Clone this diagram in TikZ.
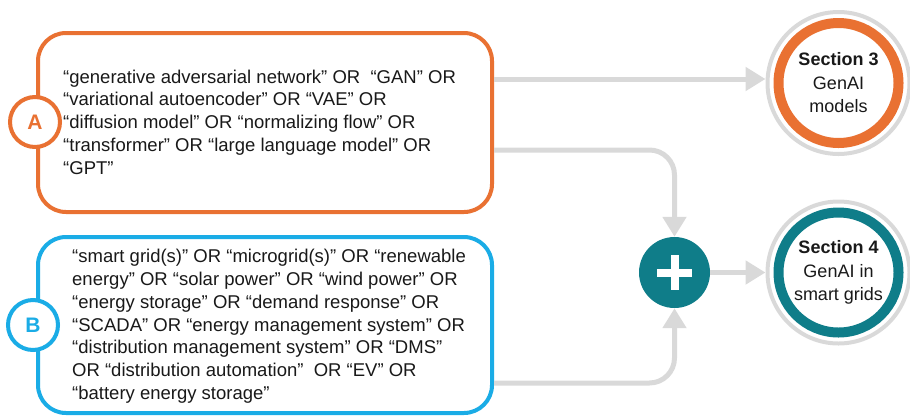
\documentclass[tikz,border=0pt]{standalone}
\usepackage{fontspec}
\setmainfont{Liberation Sans}
\usetikzlibrary{arrows.meta,calc}
\definecolor{orA}{RGB}{233,113,50}
\definecolor{blB}{RGB}{26,172,230}
\definecolor{tealC}{RGB}{15,125,137}
\definecolor{grayL}{RGB}{217,217,217}
\definecolor{txt}{RGB}{25,25,25}
\begin{document}
\begin{tikzpicture}[x=1pt,y=-1pt,
  querybox/.style={draw, line width=4pt, rounded corners=28pt, fill=white, minimum width=454pt, inner sep=0},
  tag/.style={circle, draw, line width=4pt, fill=white, minimum size=50pt, inner sep=0, font=\fontsize{21}{21}\selectfont\bfseries},
  querytext/.style={anchor=north west, align=left, inner sep=0, font=\fontsize{18.5}{22.8}\selectfont, text=txt},
  section/.style={circle, draw=grayL, line width=4pt, fill=white, minimum size=142pt, inner sep=0},
  sectext/.style={align=center, inner sep=0, font=\fontsize{18}{23.5}\selectfont, text=txt},
  conn/.style={draw=grayL, line width=5pt, -{Triangle[width=23pt,length=20pt]}},
]
\useasboundingbox (0,0) rectangle (910,416);

% query boxes
\node[querybox, draw=orA, minimum height=179pt] (boxA) at (265,122.5) {};
\node[querybox, draw=blB, minimum height=176pt] (boxB) at (265,325) {};
\node[tag, draw=orA, text=orA] (tagA) at (35,122) {A};
\node[tag, draw=blB, text=blB] (tagB) at (33,325) {B};

\node[querytext] (textA) at (63,69.5) {“generative adversarial network” OR\ \ “GAN” OR\\
“variational autoencoder” OR “VAE” OR\\
“diffusion model” OR “normalizing flow” OR\\
“transformer” OR “large language model” OR\\
“GPT”};

\node[querytext] (textB) at (72,249) {“smart grid(s)” OR “microgrid(s)” OR “renewable\\
energy” OR “solar power” OR “wind power” OR\\
“energy storage” OR “demand response” OR\\
“SCADA” OR “energy management system” OR\\
“distribution management system” OR “DMS”\\
OR “distribution automation”\ \ OR “EV” OR\\
“battery energy storage”};

% section circles
\node[section] (s3) at (838.5,83) {};
\draw[orA, line width=10pt] (s3.center) circle (60);
\node[sectext] (s3t) at (s3.center) {\textbf{Section 3}\\GenAI\\models};

\node[section] (s4) at (838.5,272.5) {};
\draw[tealC, line width=10pt] (s4.center) circle (60);
\node[sectext] (s4t) at (s4.center) {\textbf{Section 4}\\GenAI in\\smart grids};

% plus
\node[circle, fill=tealC, minimum size=71pt, inner sep=0] (plus) at (674.5,272.5) {};
\draw[white, line width=8pt] ($(plus.center)+(-17.5,0)$) -- ($(plus.center)+(17.5,0)$);
\draw[white, line width=8pt] ($(plus.center)+(0,-17.5)$) -- ($(plus.center)+(0,17.5)$);

% connectors
\draw[conn] ($(boxA.east |- s3.west)+(0,-4)$) -- ($(s3.west)+(0,-4)$);
\draw[conn, rounded corners=25pt] ($(boxA.east)+(0,27.5)$) -| (plus.north);
\draw[conn, rounded corners=25pt] ($(boxB.east)+(0,58)$) -| (plus.south);
\draw[conn] (plus.east) -- (s4.west);
\end{tikzpicture}
\end{document}
